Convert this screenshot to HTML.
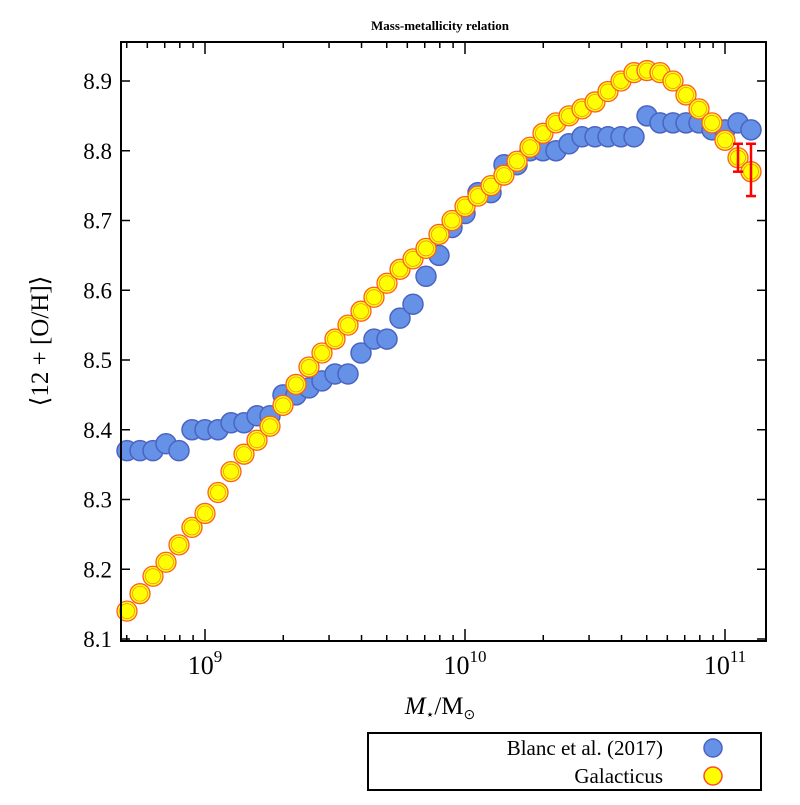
<!DOCTYPE html>
<html><head><meta charset="utf-8"><style>
body{margin:0;background:#fff;width:800px;height:800px;overflow:hidden}
text{font-family:"Liberation Serif",serif;fill:#000}
</style></head><body>
<svg id="chart" width="800" height="800" xmlns="http://www.w3.org/2000/svg">
<text x="440" y="30" font-size="13" font-weight="bold" text-anchor="middle">Mass-metallicity relation</text>
<g id="marks"></g>
<rect x="121" y="42" width="645" height="599" fill="none" stroke="#000" stroke-width="2"/>
<g id="axes"></g>
<text transform="translate(48,341) rotate(-90)" font-size="25" text-anchor="middle">⟨12 + [O/H]⟩</text>
<text x="440" y="714" font-size="25" text-anchor="middle"><tspan font-style="italic">M</tspan><tspan font-size="14" dy="5">⋆</tspan><tspan dy="-5">/M</tspan><tspan font-size="14" dy="5">⊙</tspan></text>
<g>
<rect x="368" y="733" width="393" height="57" fill="#fff" stroke="#000" stroke-width="2"/>
<text x="663" y="755" font-size="21" text-anchor="end">Blanc et al. (2017)</text>
<circle cx="713" cy="748" r="9" fill="#6592e6" stroke="#4b63c2" stroke-width="1.5"/>
<text x="663" y="783" font-size="21" text-anchor="end">Galacticus</text>
<circle cx="713" cy="776" r="9" fill="#ffff00" stroke="#ff4a2a" stroke-width="1.5"/>
</g>
</svg>
<script>
const blancLogM=[8.70,8.75,8.80,8.85,8.90,8.95,9.00,9.05,9.10,9.15,9.20,9.25,9.30,9.35,9.40,9.45,9.50,9.55,9.60,9.65,9.70,9.75,9.80,9.85,9.90,9.95,10.00,10.05,10.10,10.15,10.20,10.25,10.30,10.35,10.40,10.45,10.50,10.55,10.60,10.65,10.70,10.75,10.80,10.85,10.90,10.95,11.00,11.05,11.10];
const blancOH=[8.37,8.37,8.37,8.38,8.37,8.40,8.40,8.40,8.41,8.41,8.42,8.42,8.45,8.45,8.46,8.47,8.48,8.48,8.51,8.53,8.53,8.56,8.58,8.62,8.65,8.69,8.71,8.74,8.74,8.78,8.78,8.80,8.80,8.80,8.81,8.82,8.82,8.82,8.82,8.82,8.85,8.84,8.84,8.84,8.84,8.83,8.83,8.84,8.83];
const galLogM=[8.70,8.75,8.80,8.85,8.90,8.95,9.00,9.05,9.10,9.15,9.20,9.25,9.30,9.35,9.40,9.45,9.50,9.55,9.60,9.65,9.70,9.75,9.80,9.85,9.90,9.95,10.00,10.05,10.10,10.15,10.20,10.25,10.30,10.35,10.40,10.45,10.50,10.55,10.60,10.65,10.70,10.75,10.80,10.85,10.90,10.95,11.00,11.05,11.10];
const galOH=[8.14,8.165,8.19,8.21,8.235,8.26,8.28,8.31,8.34,8.365,8.385,8.405,8.435,8.465,8.49,8.51,8.53,8.55,8.57,8.59,8.61,8.63,8.645,8.66,8.68,8.70,8.72,8.735,8.75,8.765,8.785,8.805,8.825,8.84,8.85,8.86,8.87,8.885,8.90,8.912,8.915,8.912,8.90,8.88,8.86,8.84,8.815,8.79,8.77];
const errLogM=[11.05,11.10];
const errLo=[8.77,8.735];
const errHi=[8.81,8.81];
const yTicks=[8.1,8.2,8.3,8.4,8.5,8.6,8.7,8.8,8.9];
const xMajor=[9,10,11];

const NS="http://www.w3.org/2000/svg";
const X0=121,X1=766,Y0=641,Y1=42;
const xs=v=>205+(v-9)*260;
const ys=v=>639-(v-8.1)*697.5;
const marks=document.getElementById('marks'),axes=document.getElementById('axes');
function mk(tag,at,p){const e=document.createElementNS(NS,tag);for(const k in at)e.setAttribute(k,at[k]);p.appendChild(e);return e;}

blancLogM.forEach((m,i)=>{
  const c=mk('circle',{cx:xs(m),cy:ys(blancOH[i]),r:10,fill:'#6592e6',stroke:'#4b63c2','stroke-width':1.5},marks);
  
  
});
galLogM.forEach((m,i)=>{
  const g=mk('g',{},marks);
  
  
  mk('circle',{cx:xs(m),cy:ys(galOH[i]),r:10,fill:'#ffff00',stroke:'#ff5a2a','stroke-width':1.3},g);
  mk('circle',{cx:xs(m),cy:ys(galOH[i]),r:7.5,fill:'none',stroke:'#f08030','stroke-width':0.7},g);
});
errLogM.forEach((m,i)=>{
  const g=mk('g',{stroke:'#f00','stroke-width':2.5},marks);
  
  
  const x=xs(m);
  mk('line',{x1:x,x2:x,y1:ys(errLo[i]),y2:ys(errHi[i])},g);
  mk('line',{x1:x-5,x2:x+5,y1:ys(errLo[i]),y2:ys(errLo[i])},g);
  mk('line',{x1:x-5,x2:x+5,y1:ys(errHi[i]),y2:ys(errHi[i])},g);
});
yTicks.forEach(t=>{
  const y=ys(t);
  mk('line',{x1:X0,x2:X0+9,y1:y,y2:y,stroke:'#000','stroke-width':1.5},axes);
  mk('line',{x1:X1,x2:X1-9,y1:y,y2:y,stroke:'#000','stroke-width':1.5},axes);
  const tx=mk('text',{x:112,y:y+8,'font-size':23,'text-anchor':'end'},axes);
  tx.textContent=t.toFixed(1);
  
  
});
for(let d=8;d<=11;d++){for(let k=1;k<10;k++){
  const v=d+Math.log10(k);const x=xs(v);if(x<X0||x>X1)continue;
  const L=k===1?12:6;
  mk('line',{x1:x,x2:x,y1:Y0,y2:Y0-L,stroke:'#000','stroke-width':1.5},axes);
  mk('line',{x1:x,x2:x,y1:Y1,y2:Y1+L,stroke:'#000','stroke-width':1.5},axes);
}}
xMajor.forEach(p=>{
  const t=mk('text',{x:xs(p),y:674,'font-size':26,'text-anchor':'middle'},axes);
  
  
  t.innerHTML='10<tspan font-size="17" dy="-12">'+p+'</tspan>';
});
</script>
</body></html>
